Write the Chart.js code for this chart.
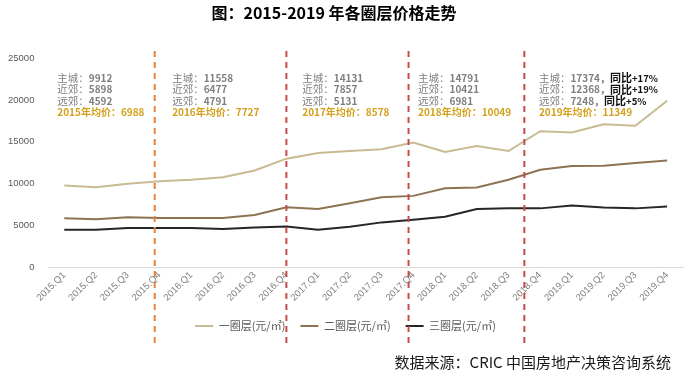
<!DOCTYPE html>
<html><head><meta charset="utf-8">
<script src="https://cdn.jsdelivr.net/npm/chart.js@4.4.1/dist/chart.umd.min.js"></script>
<style>html,body{margin:0;padding:0;background:#fff;} #wrap{width:693px;height:377px;position:relative;}</style>
</head><body><div id="wrap"><canvas id="c" width="693" height="377"></canvas></div>
<script>
const categories = ['2015.Q1','2015.Q2','2015.Q3','2015.Q4','2016.Q1','2016.Q2','2016.Q3','2016.Q4','2017.Q1','2017.Q2','2017.Q3','2017.Q4','2018.Q1','2018.Q2','2018.Q3','2018.Q4','2019.Q1','2019.Q2','2019.Q3','2019.Q4'];
const ring1 = [9800, 9590, 10000, 10310, 10480, 10790, 11590, 13000, 13670, 13910, 14110, 14910, 13790, 14510, 13910, 16270, 16110, 17110, 16910, 19900];
const ring2 = [5880, 5760, 6000, 5920, 5920, 5920, 6280, 7190, 7000, 7670, 8390, 8560, 9470, 9560, 10480, 11680, 12110, 12160, 12470, 12790];
const ring3 = [4520, 4520, 4720, 4720, 4720, 4600, 4800, 4920, 4520, 4880, 5400, 5720, 6080, 7000, 7070, 7070, 7400, 7160, 7070, 7280];
const seriesNames = ['一圈层(元/㎡)', '二圈层(元/㎡)', '三圈层(元/㎡)'];
const yTickValues = [0, 5000, 10000, 15000, 20000, 25000];
const years = ['2015', '2016', '2017', '2018', '2019'];
const mainCity = [9912, 11558, 14131, 14791, 17374];
const nearSuburb = [5898, 6477, 7857, 10421, 12368];
const farSuburb = [4592, 4791, 5131, 6981, 7248];
const yearAvg = [6988, 7727, 8578, 10049, 11349];
const yoy2019 = ['+17%', '+19%', '+5%'];
const dividerAt = [2.85, 7, 10.85, 14.5];
const titleText = '图：2015-2019 年各圈层价格走势';
const sourceText = '数据来源：CRIC 中国房地产决策咨询系统';

const CJK = "'Noto Sans CJK SC', 'Noto Sans', sans-serif";
const lineColors = ['#C9BA92', '#8C7452', '#262626'];
const dividerColors = ['#E8823A', '#C64A4C', '#C64A4C', '#C64A4C'];

const overlay = {
  id: 'overlay',
  afterDatasetsDraw(chart) {
    const ctx = chart.ctx, xs = chart.scales.x;
    ctx.save();
    ctx.lineWidth = 2;
    ctx.setLineDash([6, 5]);
    dividerAt.forEach((v, i) => {
      const x = xs.getPixelForValue(v);
      ctx.strokeStyle = dividerColors[i];
      ctx.beginPath();
      ctx.moveTo(x, 51);
      ctx.lineTo(x, 343);
      ctx.stroke();
    });
    ctx.setLineDash([]);
    const blockAt = [-0.22, 3.4, 7.5, 11.15, 14.96];
    const rowY = [78, 89.5, 101, 112.5];
    ctx.textBaseline = 'middle';
    ctx.textAlign = 'left';
    const labels = ['主城：', '近郊：', '远郊：'];
    blockAt.forEach((b, i) => {
      const x0 = xs.getPixelForValue(b);
      const vals = [mainCity[i], nearSuburb[i], farSuburb[i]];
      vals.forEach((v, r) => {
        let x = x0;
        ctx.font = '10.5px ' + CJK;
        ctx.fillStyle = '#7F7F7F';
        ctx.fillText(labels[r], x, rowY[r]);
        x += ctx.measureText(labels[r]).width;
        ctx.font = 'bold 10px ' + CJK;
        const num = String(v) + (i === 4 ? '，' : '');
        ctx.fillText(num, x, rowY[r]);
        x += ctx.measureText(num).width;
        if (i === 4) {
          ctx.fillStyle = '#111';
          ctx.font = 'bold 11px ' + CJK;
          ctx.fillText('同比', x, rowY[r]);
          x += ctx.measureText('同比').width;
          ctx.font = 'bold 9.5px ' + CJK;
          ctx.fillText(yoy2019[r], x, rowY[r]);
        }
      });
      ctx.font = 'bold 10px ' + CJK;
      ctx.fillStyle = '#D4A01C';
      ctx.fillText(years[i] + '年均价：' + yearAvg[i], x0, rowY[3]);
    });
    ctx.font = 'bold 16px ' + CJK;
    ctx.fillStyle = '#000';
    ctx.textAlign = 'center';
    ctx.fillText(titleText, 334, 13);
    ctx.font = '15px ' + CJK;
    ctx.fillStyle = '#1A1A1A';
    ctx.textAlign = 'right';
    ctx.fillText(sourceText, 671, 362);
    ctx.restore();
  }
};

new Chart(document.getElementById('c'), {
  type: 'line',
  data: {
    labels: categories,
    datasets: [ring1, ring2, ring3].map((d, i) => ({
      label: seriesNames[i],
      data: d,
      borderColor: lineColors[i],
      backgroundColor: lineColors[i],
      borderWidth: 2,
      pointRadius: 0,
      tension: 0,
      fill: false
    }))
  },
  options: {
    responsive: false,
    animation: false,
    layout: { padding: { left: 8, right: 10, top: 58, bottom: 35.5 } },
    plugins: {
      title: { display: false },
      legend: {
        position: 'bottom',
        labels: {
          boxWidth: 18, boxHeight: 2,
          color: '#595959',
          font: { family: CJK, size: 11 },
          padding: 15,
          generateLabels(chart) {
            return Chart.defaults.plugins.legend.labels.generateLabels(chart).map(l => Object.assign(l, { lineWidth: 0 }));
          }
        }
      },
      tooltip: { enabled: false }
    },
    scales: {
      x: {
        offset: true,
        grid: { display: false, drawTicks: false },
        border: { display: true, color: '#D9D9D9', width: 1 },
        ticks: {
          color: '#7F7F7F', minRotation: 45, maxRotation: 45, autoSkip: false,
          font: { family: "'Liberation Sans', sans-serif", size: 9.5 }, padding: 2
        }
      },
      y: {
        min: 0, max: 25000,
        afterBuildTicks: s => { s.ticks = yTickValues.map(v => ({ value: v })); },
        afterFit: s => { s.width -= 14; },
        grid: { display: false, drawTicks: false },
        border: { display: false },
        ticks: {
          color: '#595959', padding: 14,
          font: { family: "'Liberation Sans', sans-serif", size: 9.5 },
          callback: v => String(v)
        }
      }
    }
  },
  plugins: [overlay]
});
</script></body></html>
